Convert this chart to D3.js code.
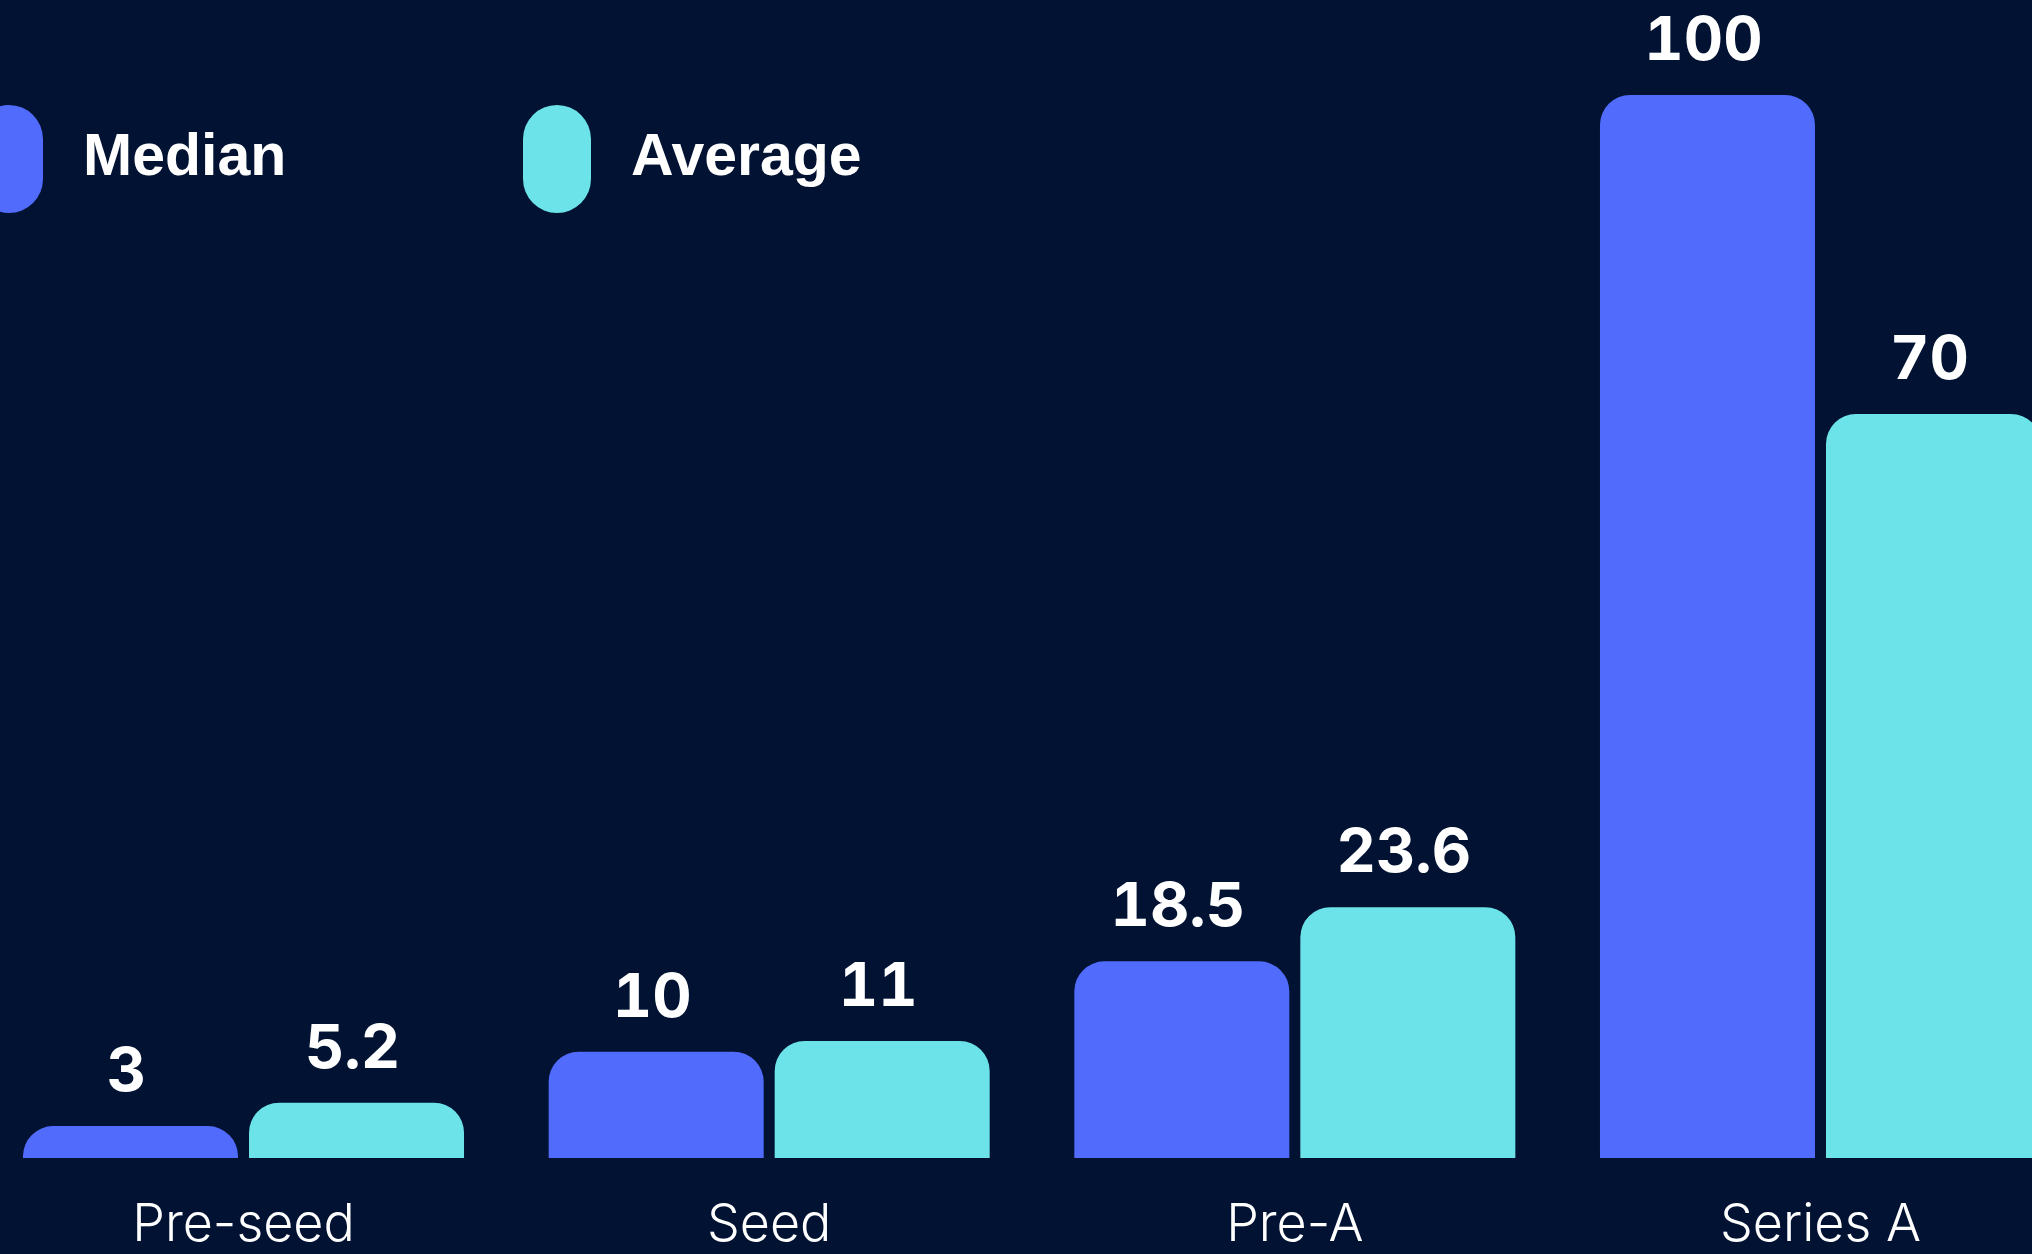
<!DOCTYPE html>
<html>
<head>
<meta charset="utf-8">
<script src="https://cdn.jsdelivr.net/npm/d3@7"></script>
<style>
  html, body { margin: 0; padding: 0; background: #011232; overflow: hidden; }
  svg { display: block; }
</style>
</head>
<body>
<svg id="chart" width="2032" height="1254"></svg>
<script>
const categories = ["Pre-seed", "Seed", "Pre-A", "Series A"];
const seriesNames = ["Median", "Average"];
const medianValues = [3, 10, 18.5, 100];
const averageValues = [5.2, 11, 23.6, 70];
const valueLabels = [["3", "5.2"], ["10", "11"], ["18.5", "23.6"], ["100", "70"]];
const colors = ["#516CFD", "#6CE3E8"];

const W = 2032, H = 1254;
const baseline = 1158;
const svg = d3.select("#chart");
svg.append("rect").attr("width", W).attr("height", H).attr("fill", "#011232");

const data = categories.map((c, i) => ({
  cat: c,
  vals: [
    { s: seriesNames[0], v: medianValues[i], label: valueLabels[i][0], color: colors[0] },
    { s: seriesNames[1], v: averageValues[i], label: valueLabels[i][1], color: colors[1] }
  ]
}));

const x0 = d3.scaleBand().domain(categories).range([23, 2041]).paddingInner(0.161).paddingOuter(0);
const x1 = d3.scaleBand().domain(seriesNames).range([0, x0.bandwidth()]).paddingInner(0.0487);
const y = d3.scaleLinear().domain([0, 100]).range([baseline, 95]);

function topRounded(x, yTop, w, h, r) {
  r = Math.min(r, h, w / 2);
  return `M${x},${yTop + h}V${yTop + r}A${r},${r} 0 0 1 ${x + r},${yTop}H${x + w - r}A${r},${r} 0 0 1 ${x + w},${yTop + r}V${yTop + h}Z`;
}

const groups = svg.selectAll("g.grp").data(data).join("g")
  .attr("class", "grp")
  .attr("transform", d => `translate(${x0(d.cat)},0)`);

groups.selectAll("path.bar").data(d => d.vals).join("path")
  .attr("class", "bar")
  .attr("fill", d => d.color)
  .attr("d", d => topRounded(x1(d.s), y(d.v), x1.bandwidth(), baseline - y(d.v), 30));

groups.selectAll("text.val").data(d => d.vals).join("text")
  .attr("class", "val")
  .attr("x", d => x1(d.s) + x1.bandwidth() / 2 - 4)
  .attr("y", d => y(d.v) - 35)
  .attr("text-anchor", "middle")
  .attr("fill", "#ffffff")
  .style("font-family", "Inter, 'Noto Sans', sans-serif")
  .style("font-weight", 700)
  .style("font-size", "61px")
  .style("font-feature-settings", "'tnum' 1")
  .text(d => d.label);

// category axis labels
const xAxis = d3.axisBottom(x0).tickSize(0).tickPadding(0);
const ax = svg.append("g").attr("transform", `translate(0,${baseline})`).call(xAxis);
ax.select(".domain").remove();
ax.selectAll("text")
  .attr("y", 83)
  .attr("dy", 0)
  .attr("fill", "#ffffff")
  .style("font-family", "Inter, 'Noto Sans', sans-serif")
  .style("font-weight", 300)
  .style("font-size", "52px");

// legend
const legendX = [-25, 523];
const legend = svg.selectAll("g.leg").data(seriesNames).join("g")
  .attr("class", "leg")
  .attr("transform", (d, i) => `translate(${legendX[i]},105)`);
legend.append("rect")
  .attr("width", 68).attr("height", 108).attr("rx", 34).attr("ry", 34)
  .attr("fill", (d, i) => colors[i]);
legend.append("text")
  .attr("x", 108).attr("y", 70)
  .attr("fill", "#ffffff")
  .style("font-family", "'Liberation Sans', Arial, sans-serif")
  .style("font-weight", 700)
  .style("font-size", "59px")
  .text(d => d);
</script>
</body>
</html>
